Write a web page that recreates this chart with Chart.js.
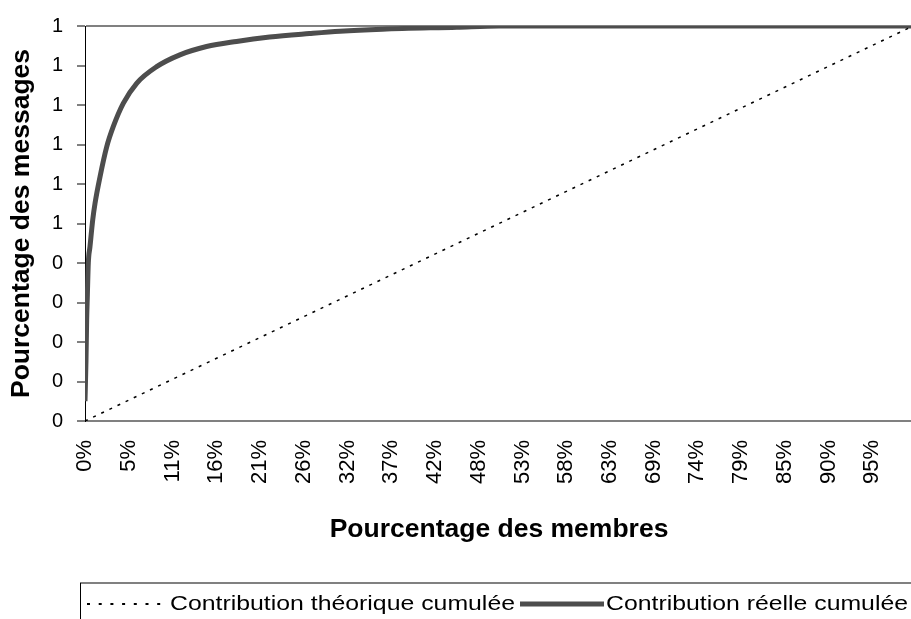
<!DOCTYPE html>
<html>
<head>
<meta charset="utf-8">
<script src="https://cdn.jsdelivr.net/npm/chart.js@4.4.0/dist/chart.umd.min.js"></script>
<style>
  html, body { margin: 0; padding: 0; background: #fff; overflow: hidden; }
  #wrap { width: 918px; height: 619px; }
</style>
</head>
<body>
<div id="wrap"><canvas id="GraficaCanvas" width="918" height="619"></canvas></div>
<script>
// axe des x : position des graduations (en % des membres) et libellés affichés
const tickPositions = [0, 5.28, 10.57, 15.85, 21.13, 26.42, 31.70, 36.98, 42.26, 47.55,
  52.83, 58.11, 63.40, 68.68, 73.96, 79.25, 84.53, 89.81, 95.09];
const tickLabels = ["0%", "5%", "11%", "16%", "21%", "26%", "32%", "37%", "42%", "48%",
  "53%", "58%", "63%", "69%", "74%", "79%", "85%", "90%", "95%"];

// contribution théorique (droite d'égalité)
const theoX = [0, 100];
const theoY = [0, 1];

// contribution réelle
const reelX = [0, 0.12, 0.2, 0.28, 0.4, 0.6, 0.93, 1.21, 1.81, 2.62, 3.41, 4.62, 6.24,
  8.65, 11.46, 14.68, 18.3, 22.3, 27.1, 30.8, 35.9, 44.9, 50, 100];
const reelY = [0.05, 0.154, 0.256, 0.315, 0.4, 0.441, 0.509, 0.551, 0.618, 0.694, 0.745,
  0.804, 0.855, 0.897, 0.927, 0.948, 0.961, 0.972, 0.981, 0.987, 0.992, 0.997, 1, 1];

const labelTheo = "Contribution théorique cumulée";
const labelReel = "Contribution réelle cumulée";

const police = "'Liberation Sans', Arial, sans-serif";

// texte étiré horizontalement pour tenir dans une largeur donnée
function texteLargeur(ctx, texte, x, y, largeur) {
  const w = ctx.measureText(texte).width;
  ctx.save();
  ctx.translate(x, y);
  ctx.scale(largeur / w, 1);
  ctx.fillText(texte, 0, 0);
  ctx.restore();
}

const legendeEncadree = {
  id: "legendeEncadree",
  afterDraw(chart) {
    const ctx = chart.ctx;
    const y = 604;
    ctx.save();
    // cadre
    ctx.strokeStyle = "#808080";
    ctx.lineWidth = 2;
    ctx.beginPath();
    ctx.moveTo(80, 583);
    ctx.lineTo(930, 583);
    ctx.stroke();
    ctx.strokeStyle = "#000";
    ctx.lineWidth = 1;
    ctx.beginPath();
    ctx.moveTo(80.5, 583);
    ctx.lineTo(80.5, 640);
    ctx.stroke();

    ctx.font = "20px " + police;
    ctx.fillStyle = "#000";
    ctx.textBaseline = "middle";

    ctx.strokeStyle = "#000";
    ctx.lineWidth = 2;
    ctx.setLineDash([3, 8.7]);
    ctx.beginPath();
    ctx.moveTo(87, y);
    ctx.lineTo(167, y);
    ctx.stroke();
    ctx.setLineDash([]);
    texteLargeur(ctx, chart.data.datasets[0].label, 170, y, 345);

    ctx.strokeStyle = "#4d4d4d";
    ctx.lineWidth = 5;
    ctx.beginPath();
    ctx.moveTo(520, y);
    ctx.lineTo(604, y);
    ctx.stroke();
    texteLargeur(ctx, chart.data.datasets[1].label, 606, y, 302);
    ctx.restore();
  },
};

const ctx = document.getElementById("GraficaCanvas").getContext("2d");

new Chart(ctx, {
  type: "line",
  data: {
    datasets: [
      {
        label: labelTheo,
        data: theoX.map((x, i) => ({ x: x, y: theoY[i] })),
        borderColor: "#000",
        borderWidth: 1.5,
        borderDash: [3, 6],
        pointRadius: 0,
        tension: 0,
      },
      {
        label: labelReel,
        data: reelX.map((x, i) => ({ x: x, y: reelY[i] })),
        borderColor: "#4d4d4d",
        borderWidth: 5,
        pointRadius: 0,
        cubicInterpolationMode: "monotone",
      },
    ],
  },
  options: {
    responsive: false,
    animation: false,
    devicePixelRatio: 1,
    layout: { padding: { left: 0, top: 26, right: 4, bottom: 60 } },
    scales: {
      x: {
        type: "linear",
        min: 0,
        max: 100,
        afterBuildTicks: (scale) => {
          scale.ticks = tickPositions.map((v) => ({ value: v }));
        },
        afterFit: (scale) => {
          scale.height = 138;
        },
        ticks: {
          autoSkip: false,
          minRotation: 90,
          maxRotation: 90,
          padding: 19,
          color: "#000",
          font: { family: police, size: 22 },
          callback: (v, i) => tickLabels[i],
        },
        grid: { color: "rgba(0,0,0,0)", drawTicks: false },
        border: { color: "#808080", width: 2 },
        title: {
          display: true,
          text: "Pourcentage des membres",
          color: "#000",
          font: { family: police, size: 26.5, weight: "bold" },
          padding: { top: 0, bottom: 13 },
        },
      },
      y: {
        min: 0,
        max: 1,
        afterFit: (scale) => {
          scale.width = 85;
        },
        ticks: {
          stepSize: 0.1,
          padding: 14,
          color: "#000",
          font: { family: police, size: 20 },
          callback: (v) => Math.round(v),
        },
        grid: {
          color: (c) => (c.tick && c.tick.value === 1 ? "#808080" : "rgba(0,0,0,0)"),
          lineWidth: 2,
          tickColor: "#000",
          tickWidth: 1,
          tickLength: 8,
        },
        border: { color: "#000", width: 1 },
        title: {
          display: true,
          text: "Pourcentage des messages",
          color: "#000",
          font: { family: police, size: 26.5, weight: "bold" },
          padding: { top: 6, bottom: 0 },
        },
      },
    },
    plugins: {
      legend: { display: false },
      tooltip: { enabled: false },
    },
  },
  plugins: [legendeEncadree],
});
</script>
</body>
</html>
